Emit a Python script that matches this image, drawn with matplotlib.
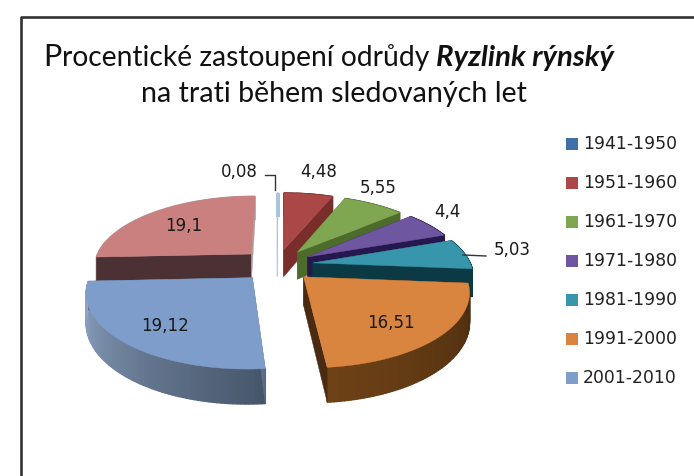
import numpy as np
import matplotlib
matplotlib.use("Agg")
import matplotlib.pyplot as plt
from matplotlib.patches import Polygon, Rectangle

# ---- data ----
values = [0.08, 4.48, 5.55, 4.4, 5.03, 16.51, 19.12, 19.1]
value_labels = ["0,08", "4,48", "5,55", "4,4", "5,03", "16,51", "19,12", "19,1"]
legend_labels = ["1941-1950", "1951-1960", "1961-1970", "1971-1980",
                 "1981-1990", "1991-2000", "2001-2010"]
top_colors = ["#A9C4DC", "#A94846", "#7FA650", "#6E57A0", "#3795AC", "#D98540", "#7F9DCB", "#C9807F"]
cut_start = ["#A9C4DC", "#7A2E2C", "#4D6B2A", "#27174F", "#0B3A45", "#4A2A10", "#5A6E8A", "#4B3034"]
cut_end = ["#A9C4DC", "#7A2E2C", "#4D6B2A", "#27174F", "#0B3A45", "#4A2A10", "#5A6E8A", "#B29A9A"]
wall_left = ["#A9C4DC", "#7A2E2C", "#4D6B2A", "#27174F", "#0B3A45", "#6F4216", "#93A8C8", "#B29A9A"]
wall_right = ["#A9C4DC", "#7A2E2C", "#4D6B2A", "#27174F", "#0B3A45", "#4A2C10", "#46566A", "#B29A9A"]
legend_colors = ["#3E6FA8", "#A94846", "#7FA650", "#6E57A0", "#3795AC", "#D98540", "#7F9DCB"]
title_regular = "rocentické zastoupení odrůdy"
title_bold = "Ryzlink rýnský"
title_line2 = "na trati během sledovaných let"

# ---- layout ----
CX, CY, R, A, K, T, EXPL = 277, 265, 158, 71, 0.17, 28, 0.23
LABEL_XY = [(239, 172), (319, 172), (378, 188), (447, 212), (512, 250), (391, 323), (165, 326), (184, 226)]
LEGEND_Y = [144, 183, 222, 261, 300, 339, 378]

fig = plt.figure(figsize=(6.94, 4.76), dpi=100)
ax = fig.add_axes([0, 0, 1, 1])
ax.set_xlim(0, 694)
ax.set_ylim(476, 0)
ax.axis("off")


def project(u, v, z=0.0):
    s = 1.0 / (1.0 + K * v)
    return CX + R * u * s, CY - A * v * s + T * z * s


def mix(c1, c2, t):
    a = np.array(matplotlib.colors.to_rgb(c1))
    b = np.array(matplotlib.colors.to_rgb(c2))
    return tuple(a + (b - a) * t)


# frame: open towards right and bottom
ax.plot([21.5, 21.5, 694], [476, 16.5, 16.5], color="#333333", lw=1.9, solid_capstyle="butt")

# exploded 3-D pie, drawn back to front
total = sum(values)
edges = np.concatenate([[0], np.cumsum(values)]) / total * 2 * np.pi
slices = []
for i in range(len(values)):
    a0, a1 = edges[i], edges[i + 1]
    mid = (a0 + a1) / 2
    apex = (EXPL * np.sin(mid), EXPL * np.cos(mid))
    slices.append((apex[1], i, a0, a1, apex))

for _, i, a0, a1, (ux, vx) in sorted(slices, key=lambda r: -r[0]):
    th = np.linspace(a0, a1, 80)
    us = ux + np.sin(th)
    vs = vx + np.cos(th)
    # outer wall, with shading left to right
    for j in range(len(th) - 1):
        col = mix(wall_right[i], wall_left[i], float((th[j] - a0) / max(a1 - a0, 1e-6)))
        quad = [project(us[j], vs[j]), project(us[j + 1], vs[j + 1]),
                project(us[j + 1], vs[j + 1], 1), project(us[j], vs[j], 1)]
        ax.add_patch(Polygon(quad, closed=True, fc=col, ec=col, lw=1.0, zorder=2))
    # cut faces
    for j, col in ((0, cut_start[i]), (-1, cut_end[i])):
        quad = [project(ux, vx), project(us[j], vs[j]), project(us[j], vs[j], 1), project(ux, vx, 1)]
        ax.add_patch(Polygon(quad, closed=True, fc=col, ec=col, lw=0.3, zorder=2))
    # top face
    pts = [project(ux, vx)] + [project(a, b) for a, b in zip(us, vs)]
    ax.add_patch(Polygon(pts, closed=True, fc=top_colors[i], ec=top_colors[i], lw=0.3, zorder=2))

# value labels and leader lines
for txt, (x, y) in zip(value_labels, LABEL_XY):
    ax.text(x, y, txt, ha="center", va="center", fontsize=12, color="#1a1a1a",
            family="DejaVu Sans", zorder=5)
ax.plot([265, 275, 275], [175, 175, 190], color="#333333", lw=1.0, zorder=4)
ax.plot([463, 486], [255, 256], color="#333333", lw=1.0, zorder=4)

# legend
for txt, col, y in zip(legend_labels, legend_colors, LEGEND_Y):
    ax.add_patch(Rectangle((566, y - 6), 12, 12, fc=col, ec="none", zorder=5))
    ax.text(583, y, txt, ha="left", va="center", fontsize=12.4, color="#222222",
            family="DejaVu Sans", zorder=5)

# title, composed from pieces
fig.canvas.draw()
rend = fig.canvas.get_renderer()
t_p = ax.text(43, 66, "P", fontsize=22, family="Lato", color="#111111", va="baseline")
x = t_p.get_window_extent(rend).x1 + 1
t_r = ax.text(x, 66, title_regular, fontsize=20.3, family="Lato", color="#111111", va="baseline")
x = t_r.get_window_extent(rend).x1 + 6
ax.text(x, 66, title_bold, fontsize=21.2, family="Lato", weight="bold", style="italic",
        color="#111111", va="baseline")
ax.text(333.5, 102, title_line2, fontsize=20.6, family="Lato", color="#111111",
        ha="center", va="baseline")

fig.savefig("out.png", dpi=100, facecolor="white")
